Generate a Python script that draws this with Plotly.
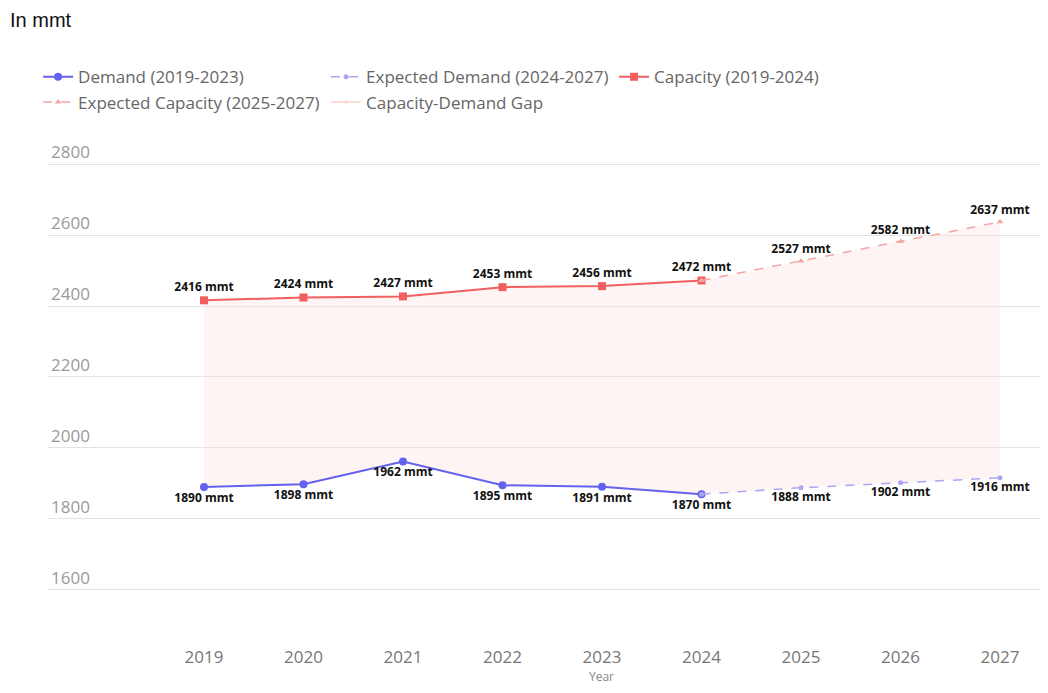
import plotly.graph_objects as go

demand_years = [2019, 2020, 2021, 2022, 2023, 2024]
demand = [1890, 1898, 1962, 1895, 1891, 1870]
exp_demand_years = [2024, 2025, 2026, 2027]
exp_demand = [1870, 1888, 1902, 1916]
capacity_years = [2019, 2020, 2021, 2022, 2023, 2024]
capacity = [2416, 2424, 2427, 2453, 2456, 2472]
exp_capacity_years = [2024, 2025, 2026, 2027]
exp_capacity = [2472, 2527, 2582, 2637]
year_ticks = [2019, 2020, 2021, 2022, 2023, 2024, 2025, 2026, 2027]
y_ticks = [1600, 1800, 2000, 2200, 2400, 2600, 2800]

label_font = dict(family="Open Sans", size=12, color="#111111", weight="bold")

def lbl(vals, skip_first=False):
    out = [f"{v} mmt" for v in vals]
    if skip_first:
        out[0] = ""
    return out

fig = go.Figure()

# gap polygon
all_cap_x = capacity_years + exp_capacity_years[1:]
all_cap_y = capacity + exp_capacity[1:]
all_dem_x = demand_years + exp_demand_years[1:]
all_dem_y = demand + exp_demand[1:]
fig.add_trace(go.Scatter(
    x=all_cap_x + all_dem_x[::-1], y=all_cap_y + all_dem_y[::-1],
    fill="toself", fillcolor="rgba(252,225,225,0.38)", mode="lines",
    line=dict(width=0), showlegend=False, hoverinfo="skip"))

fig.add_trace(go.Scatter(
    x=demand_years, y=demand, name="Demand (2019-2023)",
    mode="lines+markers+text", text=lbl(demand), textposition="bottom center",
    textfont=label_font,
    line=dict(color="#6461ee", width=2), marker=dict(symbol="circle", size=8, color="#6461ee")))

fig.add_trace(go.Scatter(
    x=exp_demand_years, y=exp_demand, name="Expected Demand (2024-2027)",
    mode="lines+markers+text", text=lbl(exp_demand, True), textposition="bottom center",
    textfont=label_font,
    line=dict(color="#aaa6f2", width=1.5, dash="dash"), marker=dict(symbol="circle", size=5, color="#aaa6f2")))

fig.add_trace(go.Scatter(
    x=capacity_years, y=capacity, name="Capacity (2019-2024)",
    mode="lines+markers+text", text=lbl(capacity), textposition="top center",
    textfont=label_font,
    line=dict(color="#f25f5f", width=2), marker=dict(symbol="square", size=8, color="#f25f5f")))

fig.add_trace(go.Scatter(
    x=exp_capacity_years, y=exp_capacity, name="Expected Capacity (2025-2027)",
    mode="lines+markers+text", text=lbl(exp_capacity, True), textposition="top center",
    textfont=label_font,
    line=dict(color="#f4a6a6", width=1.5, dash="dash"), marker=dict(symbol="triangle-up", size=6, color="#f4a6a6")))

fig.add_trace(go.Scatter(
    x=[None], y=[None], name="Capacity-Demand Gap", mode="lines+markers",
    line=dict(color="#fbd3c8", width=1.5), marker=dict(symbol="triangle-up", size=5, color="#fbd3c8")))

fig.add_annotation(text="Year", xref="paper", yref="paper", x=0.5575, y=-0.0936,
                   xanchor="center", yanchor="middle", showarrow=False,
                   font=dict(family="Open Sans", size=12, color="#888888"))

fig.update_layout(
    width=1032, height=677,
    margin=dict(l=40, r=0, t=120, b=55, autoexpand=False),
    plot_bgcolor="white", paper_bgcolor="white",
    font=dict(family="Open Sans", color="#666666"),
    title=dict(text="In mmt", x=0.0, xanchor="left", y=0.982, yanchor="middle",
               pad=dict(l=2),
               font=dict(family="Liberation Sans", size=20, color="#111111")),
    legend=dict(orientation="h", x=-0.01, xanchor="left", y=1.137, yanchor="top",
                font=dict(family="Open Sans", size=17, color="#666666"),
                entrywidth=243, itemwidth=30,
                bgcolor="rgba(0,0,0,0)"),
    xaxis=dict(range=[2017.432, 2027.402], tickmode="array", tickvals=year_ticks,
               ticktext=[str(t) for t in year_ticks], showgrid=False, zeroline=False,
               showline=False, ticks="", ticklabelstandoff=15,
               tickfont=dict(family="Open Sans", size=17, color="#777777")),
    yaxis=dict(range=[1487.3, 2901.4], tickmode="array", tickvals=y_ticks,
               showgrid=True, gridcolor="#e3e3e3", gridwidth=1, zeroline=False,
               showline=False, ticks="", ticklabelposition="inside top",
               tickfont=dict(family="Open Sans", size=17, color="#9a9a9a")),
)

fig.write_html("out.html")
